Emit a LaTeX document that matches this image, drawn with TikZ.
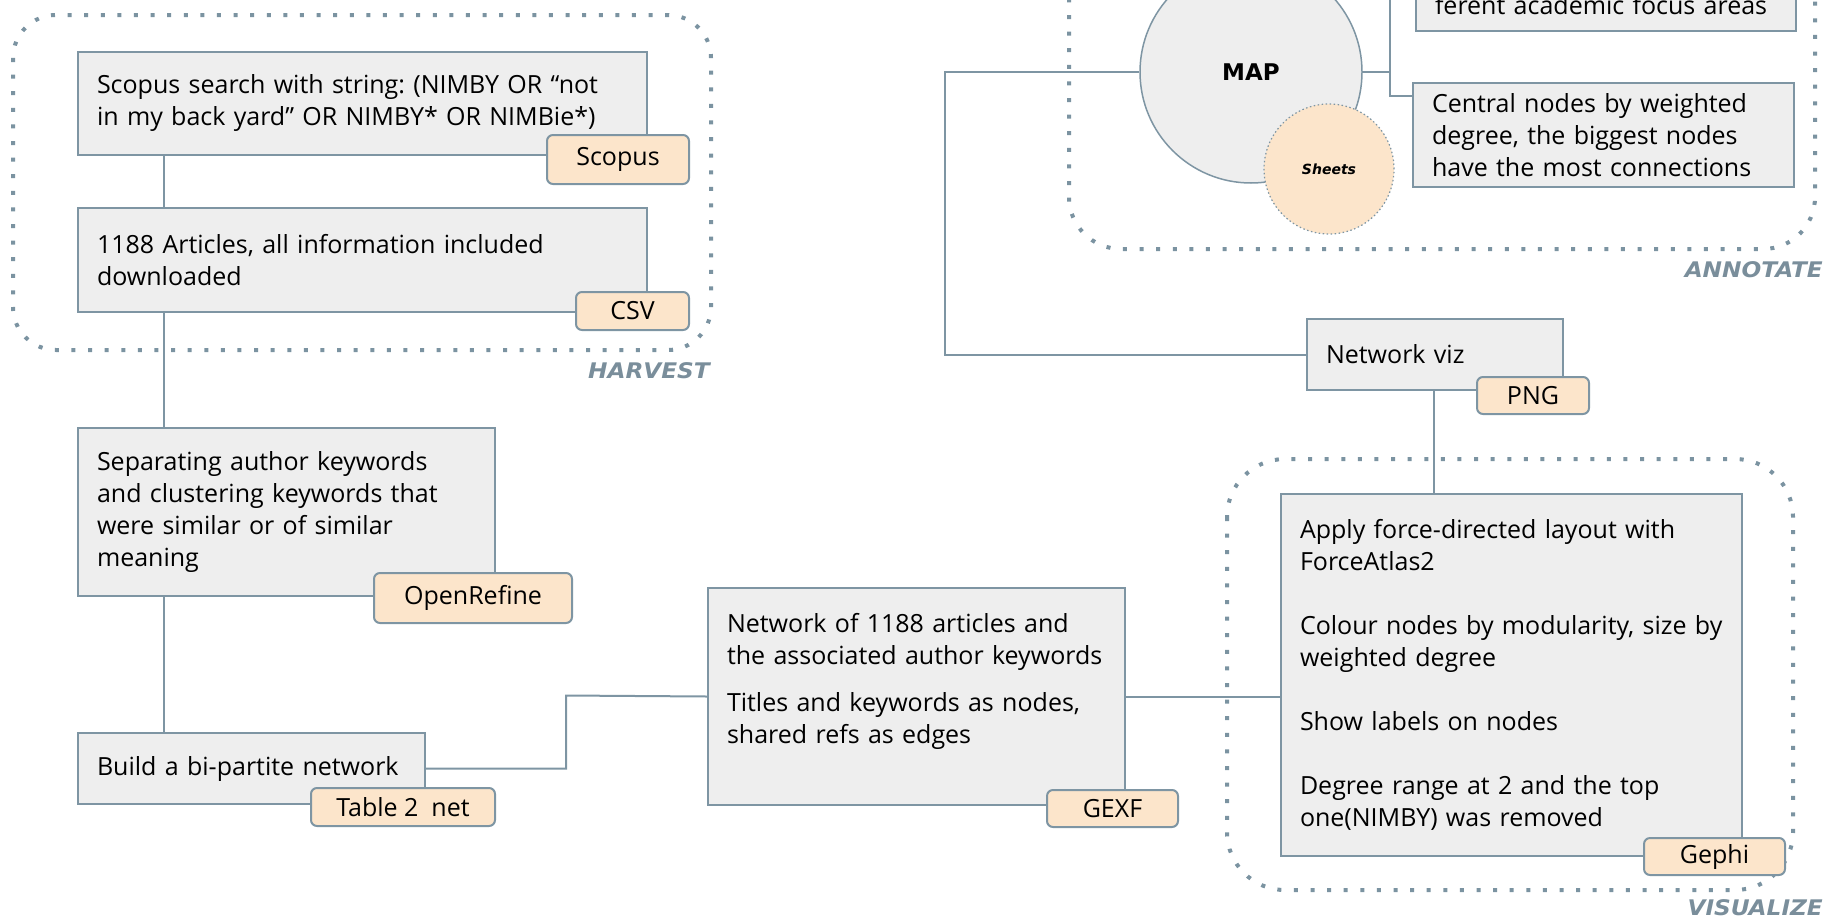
\documentclass[tikz,border=0pt]{standalone}
\usepackage{fontspec}
\setmainfont{Open Sans}
\newfontfamily\labfont{DejaVu Sans}
\definecolor{linec}{HTML}{7E95A3}
\definecolor{boxfill}{HTML}{EEEEEE}
\definecolor{tagfill}{HTML}{FCE5CB}
\definecolor{dotc}{HTML}{7B93A1}
\definecolor{labc}{HTML}{7A8E9B}
\newcommand{\ml}[1]{\mbox{#1}}
\newcommand{\grouptext}[1]{\scalebox{1.08}[1]{\labfont\bfseries\itshape\fontsize{21.5}{25}\selectfont #1}}
\frenchspacing
\begin{document}
\begin{tikzpicture}[x=1pt,y=-1pt,
  box/.style={draw=linec, line width=2pt, fill=boxfill, anchor=north west, inner xsep=19pt, inner ysep=0pt, align=left, font=\fontsize{25}{32}\selectfont, text=black},
  tagbox/.style={draw=linec, line width=2pt, fill=tagfill, rounded corners=6pt, anchor=north west, inner sep=0pt, font=\fontsize{25}{28}\selectfont, text=black},
  group/.style={draw=dotc, line width=4pt, dash pattern=on 4pt off 12.6pt, rounded corners=#1},
  grouplabel/.style={text=labc, anchor=base east, inner sep=0pt},
  conn/.style={draw=linec, line width=2pt}
]
\useasboundingbox (0,0) rectangle (1827,921);
% groups
\draw[group=43pt] (13,15) rectangle (711,350);
\draw[group=52pt] (1069,-120) rectangle (1815,249);
\draw[group=58pt] (1227,459) rectangle (1793,890);
\node[grouplabel] (lharvest) at (710,378) {\grouptext{HARVEST}};
\node[grouplabel] (lannotate) at (1823,277) {\grouptext{ANNOTATE}};
\node[grouplabel] (lvisualize) at (1823,915) {\grouptext{VISUALIZE}};

% boxes
\node[box, text width=531pt, minimum height=103pt] (b1) at (77,51)
  {\ml{Scopus search with string: (NIMBY OR “not}\\\ml{in my back yard” OR NIMBY* OR NIMBie*)}};
\node[box, text width=531pt, minimum height=104pt] (b2) at (77,207)
  {\ml{1188 Articles, all information included}\\\ml{downloaded}};
\node[box, text width=379pt, minimum height=168pt] (b3) at (77,427)
  {\ml{Separating author keywords}\\\ml{and clustering keywords that}\\\ml{were similar or of similar}\\\ml{meaning}};
\node[box, text width=309pt, minimum height=71pt] (b4) at (77,732)
  {\ml{Build a bi-partite network}};
\node[box, text width=379pt, minimum height=217pt] (net) at (707,587)
  {\ml{Network of 1188 articles and}\\\ml{the associated author keywords}\\[15pt]\ml{Titles and keywords as nodes,}\\\ml{shared refs as edges}\\[4pt]\mbox{}};
\node[box, text width=218pt, minimum height=71pt] (netviz) at (1306,318)
  {\ml{Network viz}};
\node[box, text width=423pt, minimum height=362pt] (gephi) at (1280,493)
  {\ml{Apply force-directed layout with}\\\ml{ForceAtlas2}\\[32pt]\ml{Colour nodes by modularity, size by}\\\ml{weighted degree}\\[32pt]\ml{Show labels on nodes}\\[32pt]\ml{Degree range at 2 and the top}\\\ml{one(NIMBY) was removed}};
\node[box, text width=343pt, minimum height=104pt] (central) at (1412,82)
  {\ml{Central nodes by weighted}\\\ml{degree, the biggest nodes}\\\ml{have the most connections}};
\node[box, text width=342pt, anchor=south west, text height=100pt, text depth=17pt] (topbox) at (1415,32)
  {\ml{ferent academic focus areas}};

% map circles
\node[circle, draw=linec, line width=1.5pt, fill=boxfill, minimum size=222pt, inner sep=0pt, font=\labfont\bfseries\fontsize{23}{23}\selectfont] (map) at (1251,72) {MAP};

% connectors
\draw[conn] ([xshift=87pt]b1.south west) -- ([xshift=87pt]b2.north west);
\draw[conn] ([xshift=87pt]b2.south west) -- ([xshift=87pt]b3.north west);
\draw[conn] ([xshift=87pt]b3.south west) -- ([xshift=87pt]b4.north west);
\draw[conn] (b4.east) -| (566,695.5) -- (net.west);
\draw[conn] (net.east) -- (net.east -| gephi.west);
\draw[conn] ([xshift=128pt]netviz.south west) -- ([xshift=154pt]gephi.north west);
\draw[conn] (netviz.west) -| (945,72) -- (map.west);
\draw[conn] (map.east) -- (1390,72);
\draw[conn] (topbox.west) -| (1390,96) -- ([yshift=-14pt]central.north west);

\node[circle, draw=linec, line width=1.2pt, dash pattern=on 1.5pt off 2.5pt, fill=tagfill, minimum size=130pt, inner sep=0pt, font=\labfont\bfseries\itshape\fontsize{14}{14}\selectfont] (sheets) at (1329,169) {Sheets};

% tags
\node[tagbox, minimum width=142pt, minimum height=49pt] (tscopus) at (546,134) {Scopus};
\node[tagbox, minimum width=113pt, minimum height=38pt] (tcsv) at (575,291) {CSV};
\node[tagbox, minimum width=198pt, minimum height=50pt] (topen) at (373,572) {OpenRefine};
\node[tagbox, minimum width=184pt, minimum height=38pt] (ttable) at (310,787) {Table 2~ net};
\node[tagbox, minimum width=131pt, minimum height=37pt] (tgexf) at (1046,789) {GEXF};
\node[tagbox, minimum width=112pt, minimum height=37pt] (tpng) at (1476,376) {PNG};
\node[tagbox, minimum width=141pt, minimum height=37pt] (tgephi) at (1643,837) {Gephi};
\end{tikzpicture}
\end{document}
